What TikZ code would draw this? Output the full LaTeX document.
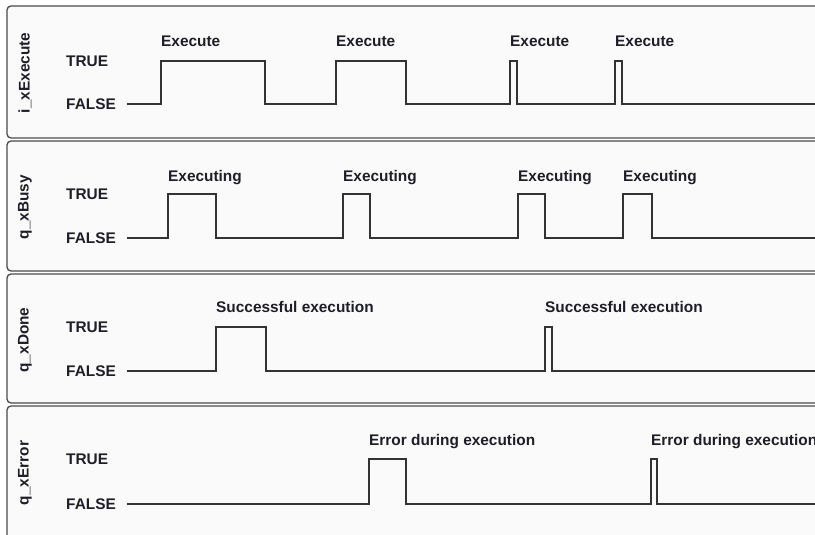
\documentclass[tikz,border=0pt]{standalone}
\usepackage{fontspec}
\setmainfont{Liberation Sans}
\usepackage{tikz}

\definecolor{txtcol}{HTML}{1E1E28}
\definecolor{wavecol}{HTML}{333333}
\definecolor{framecol}{HTML}{4A4A4A}
\definecolor{panelfill}{HTML}{FAFAFA}

\tikzset{
  panel/.style={draw=framecol,line width=1.3pt,fill=panelfill,rounded corners=4pt},
  wave/.style={draw=wavecol,line width=1.3pt},
  lbl/.style={inner sep=0pt,text=txtcol,font=\fontsize{15.4}{18}\selectfont\bfseries},
  sig/.style={lbl,rotate=90},
  lvl/.style={lbl,anchor=west},
  evt/.style={lbl,anchor=base west}
}

\begin{document}
\begin{tikzpicture}[x=1pt,y=-1pt]
\useasboundingbox (0,0) rectangle (815,535);
\fill[white] (0,0) rectangle (815,535);

% the four panels
\draw[panel] (7,6) rectangle (840,138);
\draw[panel] (7,141) rectangle (840,271);
\draw[panel] (7,274) rectangle (840,403);
\draw[panel] (7,406) rectangle (840,560);

% i_xExecute
\node at (25,73) [sig] (exsig) {i\_xExecute};
\node at (66,61) [lvl] (extrue) {TRUE};
\node at (66,104) [lvl] (exfalse) {FALSE};
\node at (161,47) [evt] (ex1) {Execute};
\node at (336,47) [evt] (ex2) {Execute};
\node at (510,47) [evt] (ex3) {Execute};
\node at (615,47) [evt] (ex4) {Execute};
\draw[wave] (127,104) -| (161,61) -| (265,104) -| (336,61) -| (406,104)
  -| (510,61) -| (517,104) -| (615,61) -| (622,104) -- (830,104);

% q_xBusy
\node at (25,207) [sig] (bysig) {q\_xBusy};
\node at (66,194) [lvl] (bytrue) {TRUE};
\node at (66,238) [lvl] (byfalse) {FALSE};
\node at (168,181) [evt] (by1) {Executing};
\node at (343,181) [evt] (by2) {Executing};
\node at (518,181) [evt] (by3) {Executing};
\node at (623,181) [evt] (by4) {Executing};
\draw[wave] (127,238) -| (168,194) -| (216,238) -| (343,194) -| (370,238)
  -| (518,194) -| (545,238) -| (623,194) -| (652,238) -- (830,238);

% q_xDone
\node at (25,340) [sig] (dnsig) {q\_xDone};
\node at (66,327) [lvl] (dntrue) {TRUE};
\node at (66,371) [lvl] (dnfalse) {FALSE};
\node at (216,312) [evt] (dn1) {Successful execution};
\node at (545,312) [evt] (dn2) {Successful execution};
\draw[wave] (127,371) -| (216,327) -| (266,371) -| (545,327) -| (552,371) -- (830,371);

% q_xError
\node at (25,473) [sig] (ersig) {q\_xError};
\node at (66,459) [lvl] (ertrue) {TRUE};
\node at (66,504) [lvl] (erfalse) {FALSE};
\node at (369,445) [evt] (er1) {Error during execution};
\node at (651,445) [evt] (er2) {Error during execution};
\draw[wave] (127,504) -| (369,459) -| (406,504) -| (651,459) -| (657,504) -- (830,504);
\end{tikzpicture}
\end{document}
